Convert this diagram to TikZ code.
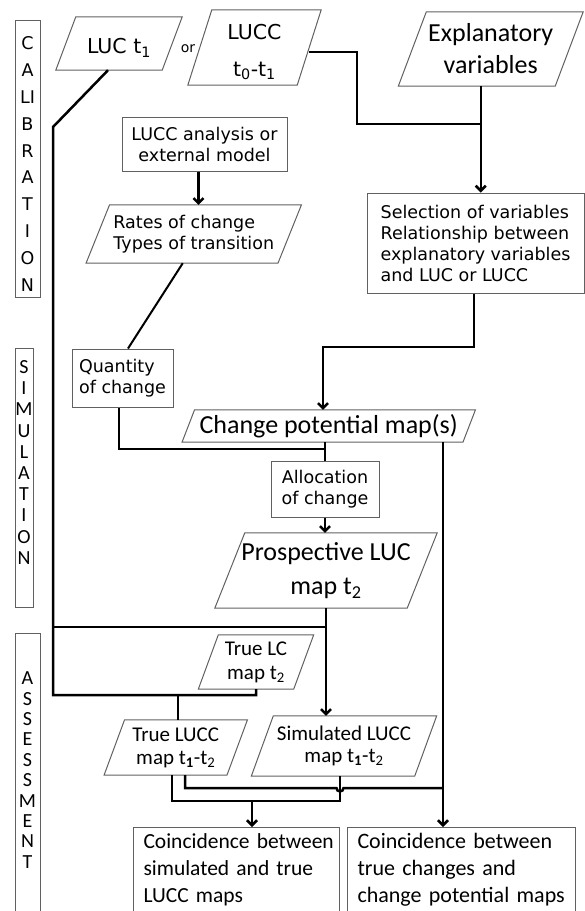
\documentclass[tikz,border=0pt]{standalone}
\usepackage{fontspec}
\setmainfont{DejaVu Sans}
\newfontfamily\carlito{Carlito}
\usetikzlibrary{arrows.meta,calc}

\tikzset{
  frame/.style={draw=black!62, line width=1pt},
  boxnode/.style={frame, rectangle, inner sep=0pt, align=center},
  slantnode/.style={rectangle, inner sep=0pt, align=center},
  smalltext/.style={font=\fontsize{17.5}{21}\selectfont},
  conn/.style={line width=2.5pt, line join=miter},
  arrowconn/.style={conn, -{Straight Barb[length=5pt,width=10pt]}},
}
% parallelogram border around a (borderless) rectangular node:
% #1 node name, #2 half of the horizontal slant
\newcommand\slantframe[2]{%
  \draw[frame] ([xshift=#2]#1.north west) -- ([xshift=#2]#1.north east)
    -- ([xshift=-#2]#1.south east) -- ([xshift=-#2]#1.south west) -- cycle;}

\begin{document}
\begin{tikzpicture}[x=1pt,y=-1pt]
\useasboundingbox (0,0) rectangle (585,911);
\clip (0,0) rectangle (585,911);
\fill[white] (0,0) rectangle (585,911);

% ---- phase labels on the left
\node[boxnode, minimum width=25pt, minimum height=277pt, text width=25pt,
  font=\fontsize{17.5}{26.9}\selectfont] (cal) at (27.5,158.5)
  {\rule{0pt}{24pt}C\\A\\LI\\B\\R\\A\\T\\I\\O\\N};
\node[boxnode, minimum width=18pt, minimum height=259pt, text width=18pt,
  font=\carlito\fontsize{20}{21.2}\selectfont] (sim) at (24,477.5)
  {S\\I\\M\\U\\L\\A\\T\\I\\O\\N\rule[-30pt]{0pt}{0pt}};
\node[boxnode, minimum width=25pt, minimum height=297pt, text width=25pt,
  font=\carlito\fontsize{20}{20.4}\selectfont] (ass) at (27.5,781.5)
  {A\\S\\S\\E\\S\\S\\M\\E\\N\\T\rule[-23pt]{0pt}{0pt}};

% ---- calibration
\node[slantnode, minimum width=106pt, minimum height=53pt,
  font=\fontsize{20.5}{24}\selectfont] (luc1) at (119,43.5)
  {\rule{0pt}{24pt}LUC t\textsubscript{1}};
\slantframe{luc1}{10pt}
\node[font=\fontsize{14}{16}\selectfont, inner sep=0pt] (ortext) at (188,49) {or};
\node[slantnode, minimum width=109pt, minimum height=75pt,
  font=\fontsize{20.5}{37}\selectfont] (lucc) at (254.5,47.5)
  {\rule{0pt}{24pt}LUCC\\t\textsubscript{0}-t\textsubscript{1}};
\slantframe{lucc}{12pt}
\node[slantnode, minimum width=156.5pt, minimum height=74pt,
  font=\carlito\fontsize{26}{32}\selectfont] (expl) at (490.75,49)
  {Explanatory\\variables};
\slantframe{expl}{14pt}

\node[boxnode, minimum width=165pt, minimum height=54pt, smalltext] (lca)
  at (204.5,144) {LUCC analysis or\\external model};
\node[slantnode, minimum width=191.5pt, minimum height=58pt, smalltext,
  align=left] (rates) at (193.75,234) {Rates of change\\Types of transition};
\slantframe{rates}{11.75pt}
\node[boxnode, minimum width=217pt, minimum height=100pt, smalltext,
  align=left] (sel) at (475.5,243)
  {Selection of variables\\Relationship between\\explanatory variables\\and LUC or LUCC};

% ---- simulation
\node[boxnode, minimum width=101pt, minimum height=58pt, smalltext,
  align=left] (qty) at (122.5,378) {Quantity\\of change};
\node[slantnode, minimum width=280.5pt, minimum height=32pt,
  font=\carlito\fontsize{26}{30}\selectfont] (chg) at (328.75,426)
  {Change potential map(s)};
\slantframe{chg}{6.25pt}
\node[boxnode, minimum width=108pt, minimum height=56pt, smalltext] (alloc)
  at (325,489) {Allocation\\of change};
\node[slantnode, minimum width=192pt, minimum height=75pt,
  font=\carlito\fontsize{26}{34}\selectfont] (prosp) at (326,570.5)
  {Prospective LUC\\map t\textsubscript{2}};
\slantframe{prosp}{15pt}

% ---- assessment
\node[slantnode, minimum width=95pt, minimum height=54pt,
  font=\carlito\fontsize{21}{24}\selectfont] (tlc) at (256,662)
  {True LC\\map t\textsubscript{2}};
\slantframe{tlc}{10pt}
\node[slantnode, minimum width=122.5pt, minimum height=55pt,
  font=\carlito\fontsize{21}{23}\selectfont] (tlucc) at (175.75,747.5)
  {True LUCC\\map t\textsubscript{\textbf{1}}-t\textsubscript{2}};
\slantframe{tlucc}{10.25pt}
\node[slantnode, minimum width=163pt, minimum height=60pt,
  font=\carlito\fontsize{21}{22}\selectfont] (slucc) at (344,746)
  {Simulated LUCC\\map t\textsubscript{\textbf{1}}-t\textsubscript{2}};
\slantframe{slucc}{11pt}

\node[boxnode, anchor=north west, text width=198pt, inner xsep=4pt,
  inner ysep=6pt, align=left, font=\carlito\fontsize{21.5}{27}\selectfont]
  (coinL) at (133,827)
  {\hspace*{6pt}Coincidence between\\\hspace*{6pt}simulated and true\\\hspace*{6pt}LUCC maps\rule[-30pt]{0pt}{0pt}};
\node[boxnode, anchor=north west, text width=208pt, inner xsep=10pt,
  inner ysep=6pt, align=left, font=\carlito\fontsize{22}{27}\selectfont]
  (coinR) at (347,827)
  {Coincidence between\\true changes and\\change potential maps\rule[-30pt]{0pt}{0pt}};

% ---- junctions and bends
\coordinate (lucbend) at (53,127);
\coordinate (midrail) at (53,627);
\coordinate (lowrail) at (53,695);
\coordinate (explbend) at (357,124);
\coordinate (explout) at ([xshift=-10pt]expl.south);
\coordinate (lcaout) at ([xshift=-6pt]lca.south);
\coordinate (qtyjoin) at (325,449);
\coordinate (selbend) at (323,347);
\coordinate (chgout) at ([xshift=114.25pt]chg.south);
\coordinate (mergeA) at (252,801);
\coordinate (hopstart) at (336.5,788);
\coordinate (mergeB) at (chgout |- hopstart);

% ---- connectors
\draw[conn] ([xshift=-11pt]luc1.south) -- (lucbend) -- (lowrail) -| (tlc.south);
\draw[conn] (midrail) -- (midrail -| prosp.south);
\draw[conn] ([xshift=2pt]tlucc.north) -- ([xshift=2pt]tlucc.north |- lowrail);
\draw[arrowconn] (prosp.south) -- (prosp.south |- slucc.north);

\draw[conn] ([yshift=-4.5pt]lucc.east) -| (explbend) -- (explbend -| explout);
\draw[arrowconn] (explout) -- (explout |- sel.north);
\draw[arrowconn] (lcaout) -- (lcaout |- rates.north);
\draw[conn, line width=2pt] ([xshift=-11pt]rates.south) -- ([xshift=5.5pt]qty.north);
\draw[conn] ([xshift=-3.5pt]qty.south) |- (qtyjoin);
\draw[arrowconn] ([xshift=-1.5pt]sel.south) |- (selbend) -- (selbend |- chg.north);
\draw[conn] (alloc.north |- chg.south) -- (alloc.north);
\draw[arrowconn] (alloc.south) -- (alloc.south |- prosp.north);
\draw[arrowconn] (chgout) -- (chgout |- coinR.north);

\draw[conn] ([xshift=-4pt]slucc.south) |- (mergeA) -| ([xshift=-3.75pt]tlucc.south);
\draw[arrowconn] (mergeA) -- (mergeA |- coinL.north);
\draw[conn] ([xshift=9.25pt]tlucc.south) |- (hopstart)
  arc[start angle=180, end angle=360, radius=3.5pt] -- (mergeB);
\end{tikzpicture}
\end{document}
